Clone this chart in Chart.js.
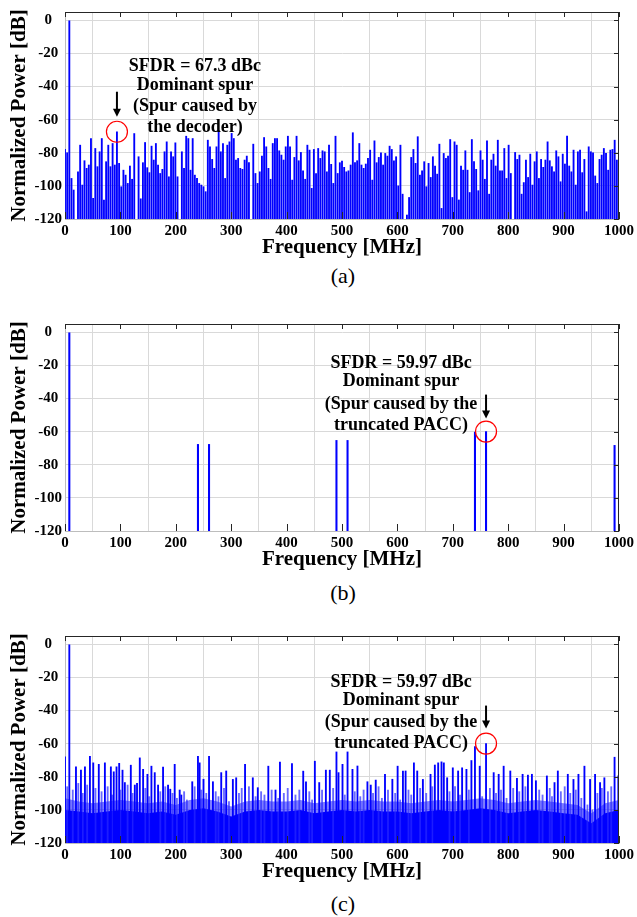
<!DOCTYPE html>
<html>
<head>
<meta charset="utf-8">
<script src="https://cdn.jsdelivr.net/npm/chart.js@4.4.0/dist/chart.umd.min.js"></script>
<style>
  body { margin: 0; background: #fff; width: 637px; height: 917px; position: relative; overflow: hidden; }
  .panel { position: absolute; left: 0; width: 637px; height: 260px; }
  .cap { position: absolute; left: 0; width: 686px; text-align: center; font: 22px "Liberation Serif", "Times New Roman", serif; line-height: 22px; color: #000; }
</style>
</head>
<body>
<div class="panel" style="top:0"><canvas id="chartA" width="637" height="260"></canvas></div>
<div class="cap" style="top:265px">(a)</div>
<div class="panel" style="top:312px"><canvas id="chartB" width="637" height="260"></canvas></div>
<div class="cap" style="top:582px">(b)</div>
<div class="panel" style="top:624px"><canvas id="chartC" width="637" height="260"></canvas></div>
<div class="cap" style="top:893px">(c)</div>

<script>
// ---- data ----
const binMHz = 3.90625;
const xTicks = [0, 100, 200, 300, 400, 500, 600, 700, 800, 900, 1000];
const yTicks = [-120, -100, -80, -60, -40, -20, 0];

// (a) spectrum with the decoder spur, one value per FFT bin (bin k = k * binMHz)
const decoderSpectrum = [
  -78, -80, 0, -95.5, -102.5, -125, -91.5, -75.4, -99.5, -84.8,
  -89.4, -87.4, -71.4, -107.5, -77.4, -88.4, -79.4, -71.4, -108.5, -85.4,
  -75.4, -88.4, -74.4, -87.4, -67.3, -86.4, -100.5, -90.5, -93.5, -98.5,
  -88, -96, -68.4, -125, -82.4, -107.8, -86, -73.8, -89, -92,
  -76, -84.4, -74.4, -87.4, -92.5, -90, -79.4, -73.4, -94.5, -79.4,
  -82.4, -74, -94.5, -125, -79.4, -89.4, -70, -71.4, -90.5, -71.4,
  -93.5, -95.5, -98.5, -99.5, -100.5, -103.5, -72.4, -76.4, -84, -89.4,
  -76.4, -66.5, -79.4, -74.4, -95.5, -75.4, -73.4, -68.3, -71.4, -84.4,
  -83.4, -89.4, -90, -84.4, -82, -86, -125, -74.8, -92.5, -98.5,
  -91.5, -82, -70.8, -76.4, -89.4, -96, -74.4, -71.4, -71.4, -78.8,
  -81.4, -84.4, -76.4, -70, -76.4, -96.5, -82.8, -70, -84.8, -79.8,
  -90.9, -96, -75.4, -78.4, -101.5, -78, -92.5, -77.4, -83.4, -78.8,
  -79.4, -91.5, -75.4, -87, -98.5, -70, -92.5, -86, -85, -88.8,
  -91.5, -90.9, -87.4, -67.9, -86, -84.8, -74.4, -87.4, -89.4, -86.8,
  -83.4, -78.4, -96.5, -72.8, -86, -82.8, -80, -87.4, -80.4, -82,
  -76, -78, -84.8, -82.4, -100, -75.4, -105, -125, -117.6, -107,
  -82.8, -78, -86.4, -70.3, -93.5, -90.9, -85.4, -100.5, -86.4, -94.9,
  -82.4, -88, -92.9, -74.8, -113.6, -80.4, -83.4, -82, -72, -107,
  -73.4, -75.4, -108.5, -88, -90.5, -78.8, -90.5, -104, -72, -85.4,
  -90, -102.9, -78.8, -84.4, -96, -72.8, -105, -84.4, -80.8, -88,
  -72.4, -90.9, -90.9, -77.4, -95.5, -75.4, -92.5, -125, -79.8, -84,
  -81.4, -105, -98, -84.4, -94.9, -80.8, -99.5, -85.4, -79.4, -95.5,
  -84, -88.8, -84.4, -73.4, -84.8, -88.4, -91.5, -78.8, -82.4, -97.5,
  -80.8, -86.8, -70, -88, -91.5, -78.4, -99.5, -79.4, -78.4, -92,
  -84, -115.6, -76.4, -79.4, -80, -94, -98.5, -84, -81.4, -77.4,
  -80.4, -90.5, -78.4, -78, -72.4, -84.4, -81.4
];

// (b) ideal spectrum: only a few spurs
const paccFreq = [7.8, 240, 260, 490, 510, 740, 760, 992];
const paccLevel = [0, -67.7, -67.7, -65.3, -65.3, -60.3, -59.97, -68.3];

// (c) spectrum with noise floor + spurs
const fullSpurFreq = [
  0, 7.8, 19.8, 28.8, 36, 45, 51, 61, 72, 82.8, 88, 93, 97.8, 103.8, 108,
  118.8, 126, 130, 135, 141, 148.8, 156, 162, 168, 177, 186, 190, 198, 207, 210,
  229.7, 240, 243, 250, 260, 267, 282, 291, 303, 309, 325, 339, 348, 367, 380,
  388, 409.7, 430, 435, 451, 458.9, 470.9, 478, 490, 493.7, 500.9, 510, 518.9, 527.9, 545.9,
  551.9, 560.9, 577.6, 590.9, 600.4, 610, 614.8, 629.8, 635.8, 646, 659.8, 667.6, 673.6, 679.6, 683.8,
  689.8, 700, 709.6, 716.8, 724.6, 733.6, 740, 748.6, 760, 773.8, 782.8, 791.8, 803.8, 815.8, 826,
  835.6, 842.8, 850, 869.8, 883.6, 889.6, 907.6, 917.8, 926.8, 937.6, 947.8, 956.8, 965.8, 973.6, 992, 998.8
];
const fullSpurLevel = [
  -68, 0, -74, -76, -74, -67.6, -71.6, -72.5, -71.6, -74, -77, -74, -71.9, -76, -83.5,
  -73, -85, -84, -68.6, -75.5, -78.5, -73.6, -77.5, -85, -74.2, -85, -87.5, -72.5, -88, -91,
  -83, -67.6, -71.6, -81.5, -67.6, -83, -77.5, -76.5, -81.6, -80.6, -72.5, -80.6, -86.6, -73.6, -88,
  -71.2, -72, -76.6, -83, -70.6, -83.5, -76, -76, -65, -77.5, -72.5, -65, -75.5, -73.5, -83,
  -85, -82, -78.5, -81.5, -73.6, -76.5, -76.5, -71.6, -76.5, -81.6, -78.5, -72.9, -71.6, -71, -71.6,
  -80.6, -74.6, -76.5, -74.6, -75.5, -70.2, -61.7, -73.6, -59.97, -77.5, -78.5, -73.6, -76.5, -81, -78.5,
  -79, -78.5, -82.4, -79.5, -83.5, -76.5, -78.5, -81.6, -78.5, -73.6, -81.6, -78.5, -83.5, -80.6, -68.2, -79.5
];
// smaller spikes sticking out of the noise in (c)
const grassFreq = [
  4, 14, 24, 32, 40, 55, 66, 77, 85, 100, 113, 122, 145, 152, 172, 181, 194, 202, 215, 220,
  234, 246, 255, 272, 277, 287, 296, 314, 319, 332, 344, 354, 360, 373, 385, 395, 402, 416, 423, 441,
  446, 464, 484, 505, 523, 533, 539, 556, 566, 572, 583, 596, 605, 620, 625, 641, 652, 663, 694, 704,
  713, 729, 753, 767, 778, 787, 797, 809, 820, 831, 856, 862, 875, 879, 895, 902, 912, 922, 932, 943,
  952, 961, 969, 980, 986
];
const grassLevel = [
  -86, -88, -84, -90, -85, -87, -89, -86, -91, -88, -85, -90, -87, -92, -89, -86, -90, -93, -89, -94,
  -86, -88, -90, -89, -92, -87, -95, -90, -87, -86, -92, -89, -91, -88, -93, -90, -87, -91, -88, -89,
  -94, -88, -87, -91, -89, -92, -88, -90, -86, -93, -88, -90, -94, -88, -91, -87, -90, -86, -89, -86,
  -91, -88, -92, -87, -90, -88, -93, -87, -89, -86, -88, -91, -87, -92, -89, -86, -90, -88, -93, -97,
  -100, -90, -87, -89, -86
];
// noise floor envelopes of (c), one value every 25 MHz
const floorFreq = [0, 25, 50, 75, 100, 125, 150, 175, 200, 225, 250, 275, 300, 325, 350, 375, 400, 425, 450, 475,
  500, 525, 550, 575, 600, 625, 650, 675, 700, 725, 750, 775, 800, 825, 850, 875, 900, 925, 950, 975, 1000];
const floorSolid = [-100, -101, -102, -101, -100, -101, -102, -101, -103, -100, -99, -101, -104, -101, -100, -101, -101, -100, -102, -101,
  -100, -101, -100, -101, -101, -102, -101, -100, -101, -100, -99, -100, -102, -101, -100, -101, -102, -103, -108, -102, -100];
const floorGrass = [-93, -95, -96, -95, -94, -95, -96, -95, -97, -94, -93, -95, -98, -95, -94, -95, -95, -94, -96, -95,
  -94, -95, -94, -95, -95, -96, -95, -94, -95, -94, -93, -94, -96, -95, -94, -95, -96, -97, -102, -96, -94];

// ---- styling ----
const SERIF = '"Liberation Serif", "Times New Roman", serif';
const BLUE = '#0000ff';
const GRID = '#d9d9d9';

function toBars(freqs, levels) {
  return freqs.map((f, i) => ({ x: f, y: [-120, levels[i]] })).filter(p => p.y[1] > -120);
}

// dark top/right frame + inward ticks like MATLAB
const framePlugin = {
  id: 'frame',
  afterDatasetsDraw(chart) {
    const { ctx, chartArea: { left, right, top, bottom }, scales: { x, y } } = chart;
    ctx.save();
    ctx.strokeStyle = '#262626';
    ctx.lineWidth = 1;
    ctx.beginPath();
    ctx.moveTo(left, top + 0.5); ctx.lineTo(right, top + 0.5);
    ctx.moveTo(right - 0.5, top); ctx.lineTo(right - 0.5, bottom);
    xTicks.forEach(v => {
      const px = Math.round(x.getPixelForValue(v)) + 0.5;
      ctx.moveTo(px, top); ctx.lineTo(px, top + 5);
      ctx.moveTo(px, bottom); ctx.lineTo(px, bottom - 7);
    });
    yTicks.forEach(v => {
      const py = Math.round(y.getPixelForValue(v)) + 0.5;
      ctx.moveTo(right, py); ctx.lineTo(right - 5, py);
    });
    ctx.stroke();
    ctx.restore();
  }
};

// red circle, arrow and text around the dominant spur
function notePlugin(note) {
  return {
    id: 'note',
    afterDatasetsDraw(chart) {
      const { ctx, scales: { x, y } } = chart;
      const cx = x.getPixelForValue(note.freq);
      const cy = y.getPixelForValue(note.level);
      ctx.save();
      ctx.strokeStyle = '#ff0000';
      ctx.lineWidth = 1.2;
      ctx.beginPath();
      ctx.arc(cx, cy, 10.5, 0, Math.PI * 2);
      ctx.stroke();
      // arrow
      ctx.strokeStyle = '#000';
      ctx.fillStyle = '#000';
      ctx.lineWidth = 2;
      ctx.beginPath();
      ctx.moveTo(cx, cy + note.arrowFrom);
      ctx.lineTo(cx, cy + note.arrowTo - 6);
      ctx.stroke();
      ctx.beginPath();
      ctx.moveTo(cx - 4, cy + note.arrowTo - 8);
      ctx.lineTo(cx + 4, cy + note.arrowTo - 8);
      ctx.lineTo(cx, cy + note.arrowTo);
      ctx.closePath();
      ctx.fill();
      // text
      ctx.font = 'bold 18px ' + SERIF;
      ctx.textAlign = 'center';
      ctx.textBaseline = 'middle';
      note.lines.forEach((t, i) => ctx.fillText(t, cx + note.dx, cy + note.dy[i]));
      ctx.restore();
    }
  };
}

function makeChart(id, datasets, note) {
  return new Chart(document.getElementById(id), {
    type: 'bar',
    data: { datasets },
    options: {
      responsive: false,
      animation: false,
      layout: { padding: { top: 11, right: 16, left: 0, bottom: 0 } },
      plugins: { legend: { display: false }, tooltip: { enabled: false } },
      scales: {
        x: {
          type: 'linear', min: 0, max: 1000, offset: false,
          afterBuildTicks: s => { s.ticks = xTicks.map(v => ({ value: v })); },
          ticks: { color: '#000', padding: 3, maxRotation: 0, autoSkip: false,
                   callback: v => String(v),
                   font: { family: SERIF, size: 15, weight: 'bold' } },
          grid: { color: GRID, drawTicks: false },
          border: { color: '#bdbdbd' },
          title: { display: true, text: 'Frequency [MHz]', color: '#000',
                   font: { family: SERIF, size: 21, weight: 'bold', lineHeight: 1 },
                   padding: { top: 0, bottom: 2 } },
          afterFit: s => { s.height = 41; }
        },
        y: {
          min: -120, max: 5,
          afterBuildTicks: s => { s.ticks = yTicks.map(v => ({ value: v })); },
          ticks: { color: '#000', padding: 3, crossAlign: 'center',
                   callback: v => String(v),
                   font: { family: SERIF, size: 15, weight: 'bold' } },
          grid: { color: GRID, drawTicks: false },
          border: { color: '#bdbdbd' },
          title: { display: true, text: 'Normalized Power [dB]', color: '#000',
                   font: { family: SERIF, size: 21, weight: 'bold', lineHeight: 1 },
                   padding: { top: 9, bottom: 0 } },
          afterFit: s => { s.width = 65; }
        }
      }
    },
    plugins: [framePlugin, notePlugin(note)]
  });
}

const barStyle = { backgroundColor: BLUE, borderWidth: 0, barThickness: 1.2, grouped: false };

// (a)
makeChart('chartA', [
  { ...barStyle, data: toBars(decoderSpectrum.map((v, k) => k * binMHz), decoderSpectrum) }
], {
  freq: 24 * binMHz, level: -67.3, dx: 78, dy: [-65, -46, -25.5, -4.5],
  arrowFrom: -40, arrowTo: -15,
  lines: ['SFDR = 67.3 dBc', 'Dominant spur', '(Spur caused by', 'the decoder)']
});

// (b)
makeChart('chartB', [
  { ...barStyle, barThickness: 1.4, data: toBars(paccFreq, paccLevel) }
], {
  freq: 760, level: -59.97, dx: -85, dy: [-68, -50, -27.5, -6.5],
  arrowFrom: -37, arrowTo: -13,
  lines: ['SFDR = 59.97 dBc', 'Dominant spur', '(Spur caused by the', 'truncated PACC)']
});

// (c)
makeChart('chartC', [
  { type: 'line', data: floorFreq.map((f, i) => ({ x: f, y: floorGrass[i] })), fill: 'start',
    backgroundColor: 'rgba(0,0,255,0.5)', borderWidth: 0, pointRadius: 0, order: 4 },
  { type: 'line', data: floorFreq.map((f, i) => ({ x: f, y: floorSolid[i] })), fill: 'start',
    backgroundColor: BLUE, borderWidth: 0, pointRadius: 0, order: 3 },
  { ...barStyle, backgroundColor: 'rgba(40,40,255,0.7)', order: 2, data: toBars(grassFreq, grassLevel) },
  { ...barStyle, order: 1, data: toBars(fullSpurFreq, fullSpurLevel) }
], {
  freq: 760, level: -59.97, dx: -85, dy: [-61.5, -43.5, -21.5, 0],
  arrowFrom: -38, arrowTo: -15,
  lines: ['SFDR = 59.97 dBc', 'Dominant spur', '(Spur caused by the', 'truncated PACC)']
});
</script>
</body>
</html>
